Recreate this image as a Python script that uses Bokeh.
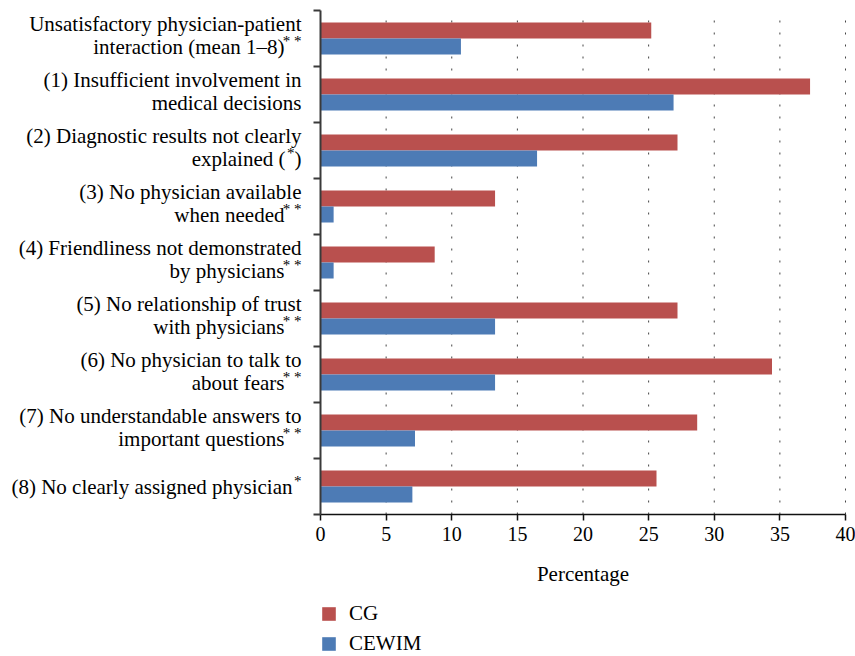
import numpy as np
from bokeh.plotting import figure
from bokeh.models import (Range1d, FixedTicker, Label, Legend, LegendItem)
from bokeh.embed import file_html
from bokeh.resources import INLINE

# Item labels (two lines each), significance marks and closing text after a mark
line1 = [
    "Unsatisfactory physician-patient",
    "(1) Insufficient involvement in",
    "(2) Diagnostic results not clearly",
    "(3) No physician available",
    "(4) Friendliness not demonstrated",
    "(5) No relationship of trust",
    "(6) No physician to talk to",
    "(7) No understandable answers to",
    "(8) No clearly assigned physician",
]
line2 = [
    "interaction (mean 1\u20138)",
    "medical decisions",
    "explained (",
    "when needed",
    "by physicians",
    "with physicians",
    "about fears",
    "important questions",
    "",
]
marks = ["**", "", "*", "**", "**", "**", "**", "**", "*"]
tails = ["", "", ")", "", "", "", "", "", ""]

# Percentages per group
cg = [25.2, 37.3, 27.2, 13.3, 8.7, 27.2, 34.4, 28.7, 25.6]
cewim = [10.7, 26.9, 16.5, 1.0, 1.0, 13.3, 13.3, 7.2, 7.0]
x_ticks = [0, 5, 10, 15, 20, 25, 30, 35, 40]

FONT = "Liberation Serif"
RED = "#B9504E"
BLUE = "#4D7BB5"
TEXT = "#000000"

W, H = 855, 656
LEFT, RIGHT, TOP, BOTTOM = 320, 845, 10, 514   # bar area in canvas pixels
X_MAX = 40
n = len(cg)

# ranges chosen so that the bar area sits inside a frame that fills the canvas
px_x = (RIGHT - LEFT) / X_MAX
px_y = (BOTTOM - TOP) / n
x_range = Range1d(-LEFT / px_x, X_MAX + (W - RIGHT) / px_x)
y_range = Range1d(-(H - BOTTOM) / px_y, n + TOP / px_y)

p = figure(width=W, height=H, output_backend="svg", toolbar_location=None,
           x_range=x_range, y_range=y_range, min_border=0)
p.outline_line_color = None
p.background_fill_color = "white"
p.border_fill_color = "white"
p.xgrid.visible = False
p.ygrid.visible = False

centers = n - np.arange(n) - 0.5
bar_h = 16 / 56

# dotted vertical grid over the bar area
p.segment(x0=x_ticks[1:], x1=x_ticks[1:], y0=0, y1=n,
          line_color="#444444", line_dash="2 10", line_width=1)

r_cg = p.hbar(y=centers + bar_h / 2, right=cg, left=0, height=bar_h,
              fill_color=RED, line_color=None)
r_ce = p.hbar(y=centers - bar_h / 2, right=cewim, left=0, height=bar_h,
              fill_color=BLUE, line_color=None)

# x axis, pinned at y = 0
xa = p.xaxis[0]
xa.fixed_location = 0
xa.bounds = (0, X_MAX)
xa.ticker = FixedTicker(ticks=x_ticks)
xa.axis_label = "Percentage"
xa.axis_label_text_font = FONT
xa.axis_label_text_font_size = "21px"
xa.axis_label_text_font_style = "normal"
xa.axis_label_text_color = TEXT
xa.axis_label_standoff = 18
xa.major_label_text_font = FONT
xa.major_label_text_font_size = "20px"
xa.major_label_text_color = TEXT
xa.major_label_standoff = 6
xa.axis_line_color = "#111111"
xa.axis_line_width = 1.5
xa.major_tick_line_color = "#111111"
xa.major_tick_line_width = 1.5
xa.major_tick_out = 6
xa.major_tick_in = 0
xa.minor_tick_line_color = None

# y axis, pinned at x = 0, ticks on the category boundaries
ya = p.yaxis[0]
ya.fixed_location = 0
ya.bounds = (0, n)
ya.ticker = FixedTicker(ticks=list(range(n + 1)))
ya.major_label_overrides = {i: "" for i in range(n + 1)}
ya.axis_line_color = "#3a3a3a"
ya.axis_line_width = 2
ya.major_tick_line_color = "#3a3a3a"
ya.major_tick_line_width = 2
ya.major_tick_out = 7
ya.major_tick_in = 0
ya.minor_tick_line_color = None


def add_text(text, y, dx, size, dy=0):
    """Right-aligned text ending dx px left of the y axis, baseline at data height y."""
    p.add_layout(Label(x=0, y=y, x_offset=dx, y_offset=dy, text=text,
                       text_align="right", text_baseline="alphabetic",
                       text_font=FONT, text_font_size=size, text_color=TEXT))


# category labels; line positions in whole pixels below each category's top
R = -19          # right edge of the label block, px from the axis
W_CHAR = 8       # width of one superscript asterisk
W_TAIL = 7       # width of a closing parenthesis
BASE_TWO = (13, 36)
BASE_ONE = (28,)
SIZE = "21px"
for i in range(n):
    top = n - i
    lines = [line1[i], line2[i]] if line2[i] else [line1[i]]
    bases = BASE_TWO if len(lines) == 2 else BASE_ONE
    for j, (t, b) in enumerate(zip(lines, bases)):
        y = top - b / px_y
        last = j == len(lines) - 1
        if last and marks[i]:
            wt = W_TAIL if tails[i] else 0
            wm = W_CHAR * len(marks[i])
            add_text(t, y, R - wt - wm - 1, SIZE)
            add_text(" ".join(marks[i]), y, R - wt, "15px", dy=6)
            if tails[i]:
                add_text(tails[i], y, R, SIZE)
        else:
            add_text(t, y, R, SIZE)

legend = Legend(items=[LegendItem(label="CG", renderers=[r_cg]),
                       LegendItem(label="CEWIM", renderers=[r_ce])],
                location=(LEFT, 0), orientation="vertical",
                padding=0, margin=0, spacing=5,
                glyph_width=17, glyph_height=17, label_height=17,
                label_standoff=12, label_text_font=FONT,
                label_text_font_size="21px", label_text_color=TEXT,
                background_fill_alpha=0, border_line_color=None)
p.add_layout(legend)

open("out.html", "w").write(file_html(p, INLINE))
